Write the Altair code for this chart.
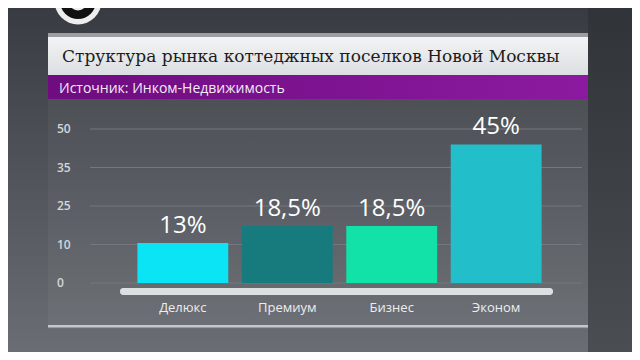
import altair as alt
import pandas as pd

# ---- data ----
categories = ["Делюкс", "Премиум", "Бизнес", "Эконом"]
values = [13, 18.5, 18.5, 45]
value_labels = ["13%", "18,5%", "18,5%", "45%"]
bar_colors = ["#0be4f4", "#177a7c", "#12e2a8", "#22bfca"]
tick_positions = [0, 12.5, 25, 37.5, 50]
tick_labels = ["0", "10", "25", "35", "50"]
title_text = "Структура рынка коттеджных поселков Новой Москвы"
source_text = "Источник: Инком-Недвижимость"

W, H = 423, 154
PAD = {"left": 120, "top": 121, "right": 81, "bottom": 69}

bars_df = pd.DataFrame({"cat": categories, "val": values, "lab": value_labels})
ticks_df = pd.DataFrame({"pos": tick_positions, "lab": tick_labels})
one = pd.DataFrame({"k": [0]})

y_scale = alt.Scale(domain=[0, 50])
x_scale = alt.Scale(domain=categories, paddingInner=0.13, paddingOuter=0.09)


def grad(stops, horizontal=False):
    return alt.LinearGradient(
        gradient="linear",
        stops=[alt.GradientStop(color=c, offset=o) for o, c in stops],
        x1=0, x2=1 if horizontal else 0, y1=0, y2=0 if horizontal else 1,
    )


def box(x, x2, y, y2, color, **kw):
    return alt.Chart(one).mark_rect(color=color, **kw).encode(
        x=alt.value(x), x2=alt.value(x2), y=alt.value(y), y2=alt.value(y2)
    )


# background
bg = box(-PAD["left"], W + PAD["right"], -PAD["top"], H + PAD["bottom"],
         grad([(0, "#383b41"), (0.35, "#4a4e54"), (1, "#6a6e74")]))
right_strip = box(460, W + PAD["right"], -PAD["top"], H + PAD["bottom"],
                  grad([(0, "#303338"), (1, "#4a4d52")]))
panel_glow = box(-80, 460, -30, 200, "#ffffff", opacity=0.04)

# title band
band_border = box(-80, 460, -96, -92, "#9a9ea3")
band_white = box(-80, 460, -92, -54, grad([(0, "#f2f3f4"), (1, "#dcdfe2")]))
band_purple = box(-80, 460, -54, -30,
                  grad([(0, "#6e0c80"), (1, "#8c1aa0")], horizontal=True))

title = alt.Chart(one).mark_text(
    text=title_text, align="left", baseline="alphabetic",
    font="DejaVu Serif", fontSize=17, color="#1c1c1c", fontWeight=500
).encode(x=alt.value(-66), y=alt.value(-67))

source = alt.Chart(one).mark_text(
    text=source_text, align="left", baseline="alphabetic",
    font="Open Sans", fontSize=14, color="#f4eaf6", fontWeight=500
).encode(x=alt.value(-69), y=alt.value(-36))

# logo (partially visible at the top-left)
logo_outer = alt.Chart(one).mark_point(
    shape="circle", filled=True, color="#eeeeee", size=2200, opacity=1
).encode(x=alt.value(-50), y=alt.value(-128))
logo_inner = alt.Chart(one).mark_point(
    shape="circle", filled=True, color="#111111", size=1300, opacity=1
).encode(x=alt.value(-50), y=alt.value(-128))
logo_ring = alt.Chart(one).mark_point(
    shape="circle", filled=False, color="#eeeeee", size=250, strokeWidth=3, opacity=1
).encode(x=alt.value(-50), y=alt.value(-128))

# grid lines and y tick labels
grid = alt.Chart(ticks_df).mark_rule(color="#74787e", strokeWidth=1).encode(
    y=alt.Y("pos:Q", scale=y_scale, axis=None),
    x=alt.value(-38), x2=alt.value(454),
)
tick_text = alt.Chart(ticks_df).mark_text(
    align="left", baseline="middle", font="Open Sans", fontSize=12,
    fontWeight=600, color="#d4d7db"
).encode(
    y=alt.Y("pos:Q", scale=y_scale, axis=None),
    x=alt.value(-71), text="lab:N",
)

# platform and bottom rule
platform = box(-8, 425, 159, 166, "#dde0e3", cornerRadius=3)
bottom_rule = box(-80, 460, 196, 198.5, "#c4c8cc")

# bars
bars = alt.Chart(bars_df).mark_bar().encode(
    x=alt.X("cat:N", scale=x_scale, sort=categories, title=None,
            axis=alt.Axis(domain=False, ticks=False, grid=False, labelAngle=0,
                          labelPadding=24, labelBaseline="middle",
                          labelFont="Open Sans", labelFontSize=13,
                          labelFontWeight="normal",
                          labelColor="#eceef0", zindex=1)),
    y=alt.Y("val:Q", scale=y_scale, axis=None),
    color=alt.Color("cat:N", scale=alt.Scale(domain=categories, range=bar_colors),
                    legend=None),
)
bar_text = alt.Chart(bars_df).mark_text(
    baseline="bottom", dy=-5, font="Open Sans", fontSize=24, color="#ffffff"
).encode(
    x=alt.X("cat:N", scale=x_scale, sort=categories),
    y=alt.Y("val:Q", scale=y_scale, axis=None),
    text="lab:N",
)

chart = alt.layer(
    bg, right_strip, panel_glow, band_border, band_white, band_purple,
    title, source, logo_outer, logo_inner, logo_ring,
    grid, tick_text, platform, bottom_rule, bars, bar_text,
).properties(
    width=W, height=H, padding=PAD, autosize=alt.AutoSizeParams(type="none"),
    background="#4a4e54",
).configure_view(stroke=None)

chart.save("out.html", embed_options={"renderer": "svg", "actions": False})
